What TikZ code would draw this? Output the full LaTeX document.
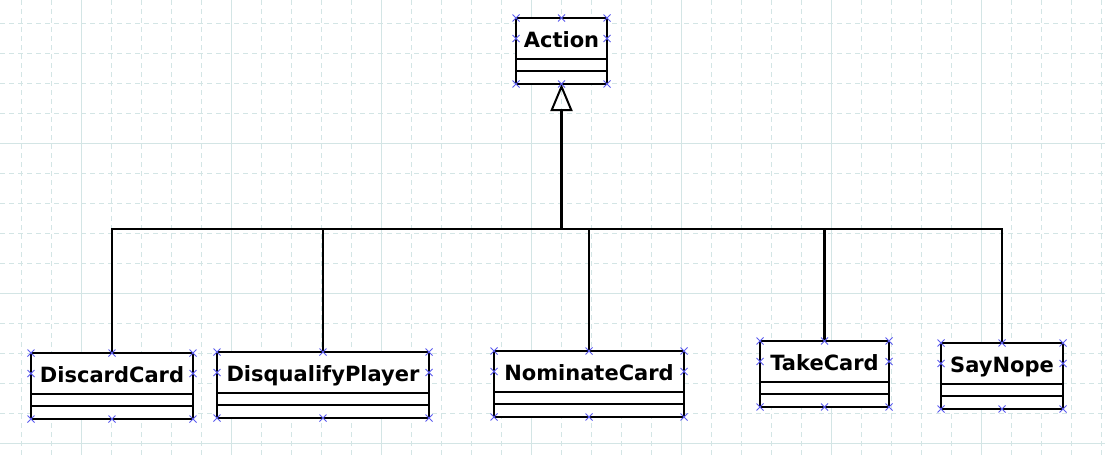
\documentclass[tikz,border=0pt]{standalone}
\usepackage{fontspec}
\setmainfont{DejaVu Sans}
\usetikzlibrary{arrows.meta}
\definecolor{gridline}{HTML}{D3E5E5}
\definecolor{handle}{HTML}{5A5AEE}

\begin{document}
\begin{tikzpicture}[x=1pt, y=-1pt,
  classbox/.style={draw, line width=2.3pt, fill=white, inner sep=0pt, outer sep=0pt, minimum height=66pt},
  classname/.style={anchor=base, inner sep=0pt, font=\fontsize{21}{25}\selectfont\bfseries},
  compart/.style={line width=2.3pt},
  inherit/.style={line width=2.3pt},
  generalize/.style={inherit, -{Triangle[open, length=27pt, width=22pt, line width=2pt]}},
  handlemark/.style={handle, line width=1pt},
  minor/.style={gridline, line width=1pt, dash pattern=on 5pt off 4pt},
  major/.style={gridline, line width=1pt}]

  % Background grid
  \useasboundingbox (0,0) rectangle (1105,455);
  \fill[white] (0,0) rectangle (1105,455);
  \foreach \x in {21,51,...,1101} {
    \draw[minor] (\x,0) -- (\x,455);
  }
  \foreach \y in {23,53,...,443} {
    \draw[minor] (0,\y) -- (1105,\y);
  }
  \foreach \x in {81,231,...,981} {
    \draw[major] (\x,0) -- (\x,455);
  }
  \foreach \y in {143,293,443} {
    \draw[major] (0,\y) -- (1105,\y);
  }

  % Classes
  \foreach \nm/\x/\y/\w/\lab in {action/561.5/51/91/Action, discard/112/386/162/DiscardCard,
      disqualify/323/385/212/DisqualifyPlayer, nominate/589/384/190/NominateCard,
      take/824.5/374/129/TakeCard, saynope/1002/376/122/SayNope} {
    \node[classbox, minimum width=\w] (\nm) at (\x,\y) {};
    \node[classname] (\nm-name) at ([yshift=-29pt]\nm.north) {\lab};
    \draw[compart] ([yshift=-41pt]\nm.north west) -- ([yshift=-41pt]\nm.north east);
    \draw[compart] ([yshift=-53pt]\nm.north west) -- ([yshift=-53pt]\nm.north east);
  }

  % Inheritance
  \coordinate (bar) at (561.5,229);
  \foreach \nm in {discard,disqualify,nominate,take,saynope} {
    \draw[inherit] (\nm.north) |- (bar);
  }
  \draw[generalize] (bar) -- (action.south);

  % Selection handles
  \foreach \nm in {action,discard,disqualify,nominate,take,saynope} {
    \foreach \a/\dy in {north west/0pt, north/0pt, north east/0pt, south west/0pt,
        south/0pt, south east/0pt, north west/-20.5pt, north east/-20.5pt} {
      \coordinate (h) at ([yshift=\dy]\nm.\a);
      \draw[handlemark] ([shift={(-3.5pt,-3.5pt)}]h) -- ([shift={(3.5pt,3.5pt)}]h)
        ([shift={(-3.5pt,3.5pt)}]h) -- ([shift={(3.5pt,-3.5pt)}]h);
    }
  }
\end{tikzpicture}
\end{document}
